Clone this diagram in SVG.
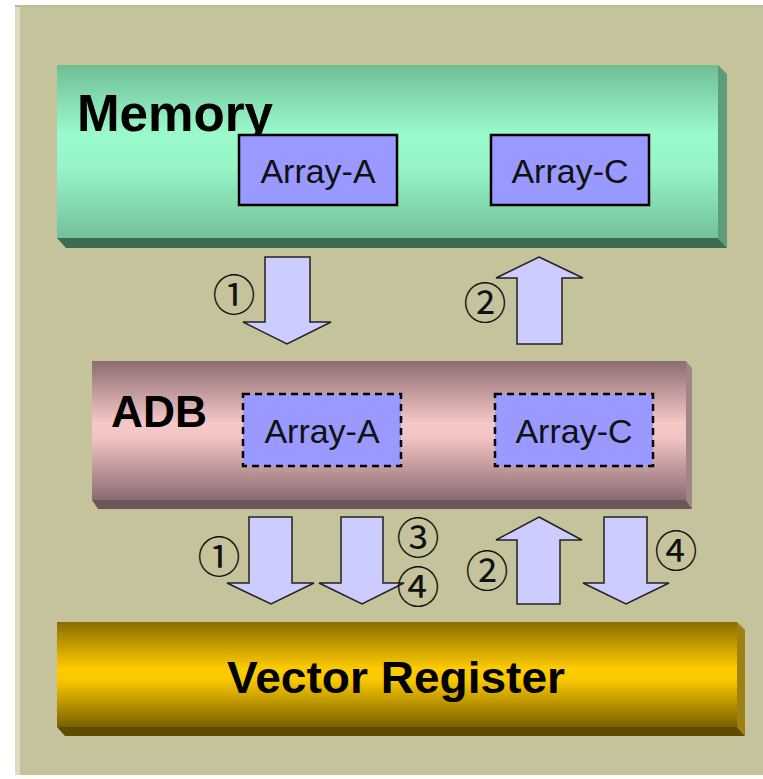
<svg xmlns="http://www.w3.org/2000/svg" width="763" height="779" viewBox="0 0 763 779">
<defs>
<linearGradient id="gMem" x1="0" y1="0" x2="0" y2="1">
<stop offset="0" stop-color="#6FBF95"/>
<stop offset="0.4" stop-color="#9BFACB"/>
<stop offset="0.6" stop-color="#96F4C6"/>
<stop offset="1" stop-color="#72C29A"/>
</linearGradient>
<linearGradient id="gAdb" x1="0" y1="0" x2="0" y2="1">
<stop offset="0" stop-color="#8C6C6F"/>
<stop offset="0.45" stop-color="#F7C8C8"/>
<stop offset="0.55" stop-color="#F3C4C4"/>
<stop offset="1" stop-color="#8A6C70"/>
</linearGradient>
<linearGradient id="gVr" x1="0" y1="0" x2="0" y2="1">
<stop offset="0" stop-color="#8A6C00"/>
<stop offset="0.45" stop-color="#FFCC00"/>
<stop offset="0.55" stop-color="#FAC800"/>
<stop offset="1" stop-color="#7A6000"/>
</linearGradient>
<style>
.arr{fill:#CCCCFF;stroke:#222;stroke-width:1.5;stroke-linejoin:miter}
.box{fill:#9999FF;stroke:#000;stroke-width:2.5}
.dbox{fill:#9999FF;stroke:#000;stroke-width:2.5;stroke-dasharray:7 5}
.lbl{font-family:"Liberation Sans",Arial,sans-serif;font-size:34px;fill:#111;text-anchor:middle}
.title{font-family:"Liberation Sans",Arial,sans-serif;font-weight:bold;fill:#000}
.num{font-family:"Noto Sans CJK JP","DejaVu Sans",sans-serif;font-size:43px;fill:#111;text-anchor:middle}
</style>
</defs>
<rect x="15" y="5" width="748" height="770" fill="#C5C39C"/>
<rect x="15" y="5" width="5" height="770" fill="#DCDBC4"/>
<rect x="15" y="5" width="748" height="2" fill="#BDBB95"/>

<g id="memory">
<polygon points="718,65 727,74 727,248 718,238" fill="#5E9C7C"/>
<polygon points="57,238 718,238 727,248 66,248" fill="#3F6B52"/>
<rect x="57" y="65" width="661" height="173" fill="url(#gMem)"/>
<text class="title" x="77" y="131" font-size="52" textLength="196" lengthAdjust="spacingAndGlyphs">Memory</text>
</g>
<g id="mem-array-a">
<rect class="box" x="239" y="135" width="158" height="70"/>
<text class="lbl" x="318" y="183">Array-A</text>
</g>
<g id="mem-array-c">
<rect class="box" x="491" y="135" width="158" height="70"/>
<text class="lbl" x="570" y="183">Array-C</text>
</g>

<g id="adb">
<polygon points="686,361 692,368 692,509 686,500" fill="#A08486"/>
<polygon points="92,500 686,500 692,509 98,509" fill="#6C5659"/>
<rect x="92" y="361" width="594" height="139" fill="url(#gAdb)"/>
<text class="title" x="111" y="427" font-size="44" textLength="96" lengthAdjust="spacingAndGlyphs">ADB</text>
</g>
<g id="adb-array-a">
<rect class="dbox" x="243" y="394" width="158" height="72"/>
<text class="lbl" x="322" y="443">Array-A</text>
</g>
<g id="adb-array-c">
<rect class="dbox" x="495" y="394" width="158" height="72"/>
<text class="lbl" x="574" y="443">Array-C</text>
</g>

<g id="vector-register">
<polygon points="737,622 745,630 745,736 737,727" fill="#A08010"/>
<polygon points="57,727 737,727 745,736 65,736" fill="#5E4B00"/>
<rect x="57" y="622" width="680" height="105" fill="url(#gVr)"/>
<text class="title" x="396" y="693" font-size="45" text-anchor="middle" textLength="338" lengthAdjust="spacingAndGlyphs">Vector Register</text>
</g>

<g id="connectors">
<path class="arr" d="M265,257 H310 V322 H331 L287,344 L243,322 H265 Z"/>
<path class="arr" d="M539,257 L583,278 H562 V344 H517 V278 H496 Z"/>
<path class="arr" d="M249,517 H292 V583 H314 L271,604 L227,583 H249 Z"/>
<path class="arr" d="M341,517 H383 V583 H404 L362,604 L319,583 H341 Z"/>
<path class="arr" d="M539,517 L582,540 H560 V604 H517 V540 H496 Z"/>
<path class="arr" d="M604,517 H647 V583 H669 L626,604 L583,583 H604 Z"/>
<text class="num" x="234" y="311">①</text>
<text class="num" x="485" y="319">②</text>
<text class="num" x="219" y="573">①</text>
<text class="num" x="418" y="554">③</text>
<text class="num" x="418" y="603">④</text>
<text class="num" x="487" y="587">②</text>
<text class="num" x="676" y="567">④</text>
</g>
</svg>
